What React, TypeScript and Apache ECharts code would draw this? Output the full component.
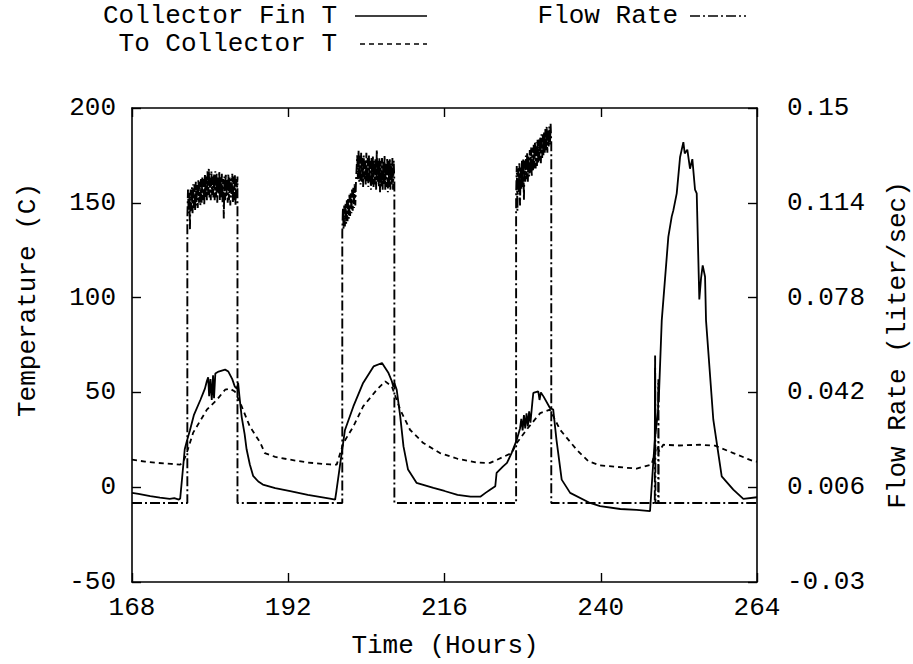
import React, { useEffect, useRef } from "react";
import * as echarts from "echarts";

// Axis ranges and tick labels
const timeTicks = [168, 192, 216, 240, 264];
const tempTicks = [-50, 0, 50, 100, 150, 200];
const flowTicks = [-0.03, 0.006, 0.042, 0.078, 0.114, 0.15];

// Collector fin temperature (C) vs time (hours)
const finTemp: [number, number][] = [
  [168, -3], [169, -3.5], [170.8, -4.7], [172.3, -5.5], [173.8, -6.2], [174.5, -5.8],
  [175.2, -6.5], [175.4, -6], [175.7, 5], [176.1, 20], [176.4, 24], [176.9, 30],
  [177.5, 38], [178.5, 46], [179.2, 52], [179.5, 56], [179.7, 58], [179.85, 48],
  [180.05, 57], [180.25, 46], [180.45, 59], [180.6, 47], [180.8, 60], [181.3, 61],
  [182.3, 62], [182.8, 61], [183.4, 57], [183.8, 53], [184.1, 52], [184.3, 55],
  [184.5, 48], [184.85, 37], [185.3, 28], [185.6, 20], [186.1, 12], [186.6, 6],
  [187.4, 3], [188.1, 1.4], [190, -0.5], [192.3, -2.1], [195, -4], [198.4, -6],
  [199.2, -6.5], [199.4, -2], [200.7, 30], [202, 42.6], [203.5, 55], [205.1, 63.7],
  [206.4, 65.5], [207.4, 60.2], [207.9, 56], [208.15, 53], [208.3, 55], [208.66, 51.4],
  [209.2, 37.4], [209.7, 21.5], [210.4, 9.3], [211.7, 2.3], [214.3, -0.4], [216, -2],
  [218, -4], [220, -5], [221.5, -5], [222.3, -3], [223, -1.3], [223.8, 0.5],
  [224.0, 7.5], [225.0, 11], [225.6, 12.8], [226.3, 18], [227.1, 25], [227.6, 31],
  [227.8, 36], [228.0, 30], [228.2, 38], [228.4, 31], [228.6, 39], [228.8, 32],
  [229.0, 40], [229.2, 34], [229.5, 45], [229.64, 49.7], [230.4, 50.5], [230.6, 46],
  [230.8, 50], [231.2, 47.9], [232.2, 41.8], [232.7, 40.9], [233.2, 25], [234.0, 4],
  [235.3, -3], [238.35, -8.3], [239.9, -10], [243, -11.5], [245.5, -12], [247.57, -12.6],
  [248.3, 25], [248.35, 63], [248.4, 28], [248.8, 40], [248.85, 55], [248.9, 45],
  [249.37, 88], [250.38, 132], [250.9, 142.7], [251.15, 146], [251.67, 155], [252.18, 174],
  [252.69, 182], [252.9, 176], [253.1, 177], [253.3, 178], [253.71, 168], [254.07, 173],
  [254.48, 157], [254.74, 155], [255.14, 99], [255.4, 110], [255.66, 117], [256.02, 111],
  [256.17, 88], [257.29, 35.6], [258.58, 5.7], [260.36, -1.3], [261.9, -6.2], [264, -5.3],
];

// Water temperature entering the collector (C)
const toCollectorTemp: [number, number][] = [
  [168, 14.5], [170, 13.5], [172, 12.8], [174, 12.3], [175.4, 11.9], [175.9, 13.7],
  [176.4, 18], [177.4, 28.8], [179.5, 40.9], [181, 46], [182.3, 51.4], [183, 52],
  [183.8, 50.5], [184.85, 42.6], [186.1, 32], [187.7, 23.5], [188.4, 18], [190, 16],
  [192.3, 14.5], [195, 13], [198.4, 12], [199.44, 11.9], [200.46, 23.3], [202, 32],
  [203.5, 42.6], [205.6, 51.4], [206.9, 55.8], [207.9, 53.2], [209.2, 40.9], [210.7, 30.3],
  [212.75, 23.3], [215.3, 18], [218, 15], [221, 13], [223, 12.8], [226.3, 18],
  [227.1, 23.3], [228.6, 30.3], [230.7, 39.1], [232.2, 40.9], [233.75, 30.3], [236.3, 19.8],
  [238.1, 13.7], [239.9, 11.5], [245.5, 9.8], [247.8, 11.9], [248.6, 21.5], [249.0, 18.9],
  [249.6, 22.4], [252, 22], [255.25, 22.4], [257.55, 21.9], [260.36, 18], [263.44, 13.7],
  [264, 13.5],
];

// Pump flow rate (liter/sec), logged every 0.1 h while the pump runs
const run1Start = 176.5;
const run1Rate = [
  0.108, 0.119, 0.110, 0.118, 0.104, 0.119, 0.111, 0.120, 0.110, 0.121, 0.112,
  0.121, 0.111, 0.122, 0.113, 0.121, 0.112, 0.123, 0.114, 0.122, 0.113,
  0.123, 0.114, 0.124, 0.115, 0.123, 0.113, 0.125, 0.116, 0.124, 0.115,
  0.126, 0.117, 0.127, 0.116, 0.125, 0.115, 0.126, 0.117, 0.124, 0.116,
  0.125, 0.115, 0.126, 0.116, 0.125, 0.114, 0.124, 0.117, 0.126, 0.115,
  0.124, 0.116, 0.125, 0.114, 0.123, 0.108, 0.124, 0.115, 0.125, 0.116,
  0.123, 0.114, 0.125, 0.115, 0.124, 0.113, 0.123, 0.116, 0.125, 0.114,
  0.124, 0.115, 0.125, 0.113, 0.123, 0.116, 0.124,
];
const run2Start = 200.3;
const run2Rate = [
  0.103, 0.112, 0.104, 0.113, 0.105, 0.114, 0.106, 0.115, 0.107, 0.116,
  0.108, 0.117, 0.109, 0.118, 0.110, 0.119, 0.111, 0.120, 0.112, 0.121,
  0.113, 0.122, 0.122, 0.132, 0.123, 0.134, 0.122, 0.132, 0.121, 0.133,
  0.122, 0.131, 0.120, 0.132, 0.123, 0.130, 0.121, 0.133, 0.122, 0.131,
  0.120, 0.132, 0.122, 0.130, 0.119, 0.131, 0.121, 0.132, 0.120, 0.130,
  0.121, 0.131, 0.119, 0.134, 0.122, 0.130, 0.120, 0.131, 0.118, 0.130,
  0.120, 0.131, 0.119, 0.130, 0.121, 0.132, 0.119, 0.129, 0.120, 0.131,
  0.118, 0.130, 0.120, 0.131, 0.119, 0.129, 0.121, 0.131, 0.119, 0.130, 0.122,
];
const run3Start = 227.0;
const run3Rate = [
  0.117, 0.128, 0.111, 0.127, 0.118, 0.129, 0.113, 0.128, 0.119, 0.130,
  0.120, 0.131, 0.115, 0.130, 0.122, 0.132, 0.123, 0.133, 0.122, 0.132,
  0.124, 0.134, 0.125, 0.135, 0.124, 0.135, 0.126, 0.136, 0.127, 0.137,
  0.127, 0.137, 0.128, 0.138, 0.129, 0.138, 0.130, 0.139, 0.129, 0.140,
  0.131, 0.140, 0.132, 0.141, 0.133, 0.142, 0.134, 0.143, 0.133, 0.142,
  0.135, 0.143, 0.136, 0.144, 0.137,
];
// Short pump pulses on the last day (hour, liter/sec)
const pulseRate: [number, number][] = [
  [248.3, 0], [248.35, 0.056], [248.4, 0], [248.82, 0], [248.86, 0.047], [248.9, 0],
];

const FONT = "Liberation Mono";
const FONT_SIZE = 26;
const runStep = 0.1;

function runPoints(start: number, rates: number[]): [number, number][] {
  const pts: [number, number][] = [[start, 0]];
  rates.forEach((r, i) => pts.push([+(start + i * runStep).toFixed(2), r]));
  const end = +(start + (rates.length - 1) * runStep).toFixed(2);
  pts.push([end, 0]);
  return pts;
}

const flowRate: [number, number][] = [
  [168, 0],
  ...runPoints(run1Start, run1Rate),
  ...runPoints(run2Start, run2Rate),
  ...runPoints(run3Start, run3Rate),
  ...pulseRate,
  [264, 0],
];

export default function App() {
  const ref = useRef<HTMLDivElement>(null);

  useEffect(() => {
    if (!ref.current) return;
    const chart = echarts.init(ref.current, undefined, { renderer: "svg" });
    const txt = { color: "#000", fontFamily: FONT, fontSize: FONT_SIZE };
    const font = `${FONT_SIZE}px "${FONT}"`;
    const border = { show: true, onZero: false, lineStyle: { color: "#000", width: 1.6 } };
    const tick = { show: true, inside: true, length: 9, lineStyle: { color: "#000", width: 1.4 } };

    chart.setOption({
      animation: false,
      backgroundColor: "#fff",
      grid: { left: 132, right: 156, top: 108, bottom: 82, containLabel: false },
      xAxis: [
        {
          type: "value", min: timeTicks[0], max: timeTicks[timeTicks.length - 1], interval: 24,
          position: "bottom", axisLine: border, axisTick: tick, splitLine: { show: false },
          axisLabel: { ...txt, margin: 13 },
        },
        {
          type: "value", min: timeTicks[0], max: timeTicks[timeTicks.length - 1], interval: 24,
          position: "top", axisLine: border, axisTick: tick, splitLine: { show: false },
          axisLabel: { show: false },
        },
      ],
      yAxis: [
        {
          type: "value", min: tempTicks[0], max: tempTicks[tempTicks.length - 1], interval: 50,
          position: "left", axisLine: border, axisTick: tick, splitLine: { show: false },
          axisLabel: { ...txt, margin: 16, formatter: (v: number) => String(v) },
        },
        {
          type: "value", min: flowTicks[0], max: flowTicks[flowTicks.length - 1],
          position: "right", axisLine: border, splitLine: { show: false },
          axisTick: { ...tick, customValues: flowTicks },
          axisLabel: {
            ...txt, margin: 30, align: "left", customValues: flowTicks,
            formatter: (v: number) => String(+v.toFixed(3)),
          },
        },
      ],
      series: [
        {
          name: "Collector Fin T", type: "line", data: finTemp, xAxisIndex: 0, yAxisIndex: 0,
          showSymbol: false, lineStyle: { color: "#000", width: 1.8 },
        },
        {
          name: "To Collector T", type: "line", data: toCollectorTemp, xAxisIndex: 0, yAxisIndex: 0,
          showSymbol: false, lineStyle: { color: "#000", width: 1.8, type: [5, 4] },
        },
        {
          name: "Flow Rate", type: "line", data: flowRate, xAxisIndex: 0, yAxisIndex: 1,
          showSymbol: false, lineStyle: { color: "#000", width: 1.9, type: [10, 3, 2, 3] },
        },
      ],
      graphic: [
        { type: "text", x: 337, y: 16, style: { text: "Collector Fin T", fill: "#000", font, align: "right", verticalAlign: "middle" } },
        { type: "line", shape: { x1: 355, y1: 16, x2: 427, y2: 16 }, style: { stroke: "#000", lineWidth: 1.6 } },
        { type: "text", x: 337, y: 44, style: { text: "To Collector T", fill: "#000", font, align: "right", verticalAlign: "middle" } },
        { type: "line", shape: { x1: 360, y1: 44, x2: 427, y2: 44 }, style: { stroke: "#000", lineWidth: 1.6, lineDash: [5, 4] } },
        { type: "text", x: 678, y: 16, style: { text: "Flow Rate", fill: "#000", font, align: "right", verticalAlign: "middle" } },
        { type: "line", shape: { x1: 690, y1: 16, x2: 746, y2: 16 }, style: { stroke: "#000", lineWidth: 1.6, lineDash: [10, 3, 2, 3] } },
        { type: "text", x: 445, y: 646, style: { text: "Time (Hours)", fill: "#000", font, align: "center", verticalAlign: "middle" } },
        { type: "text", x: 28, y: 300, rotation: Math.PI / 2, style: { text: "Temperature (C)", fill: "#000", font, align: "center", verticalAlign: "middle" } },
        { type: "text", x: 898, y: 345, rotation: Math.PI / 2, style: { text: "Flow Rate (liter/sec)", fill: "#000", font, align: "center", verticalAlign: "middle" } },
      ],
    });
    return () => chart.dispose();
  }, []);

  return (
    <div
      ref={ref}
      style={{ position: "absolute", left: 0, top: 0, width: 913, height: 664 }}
    />
  );
}
